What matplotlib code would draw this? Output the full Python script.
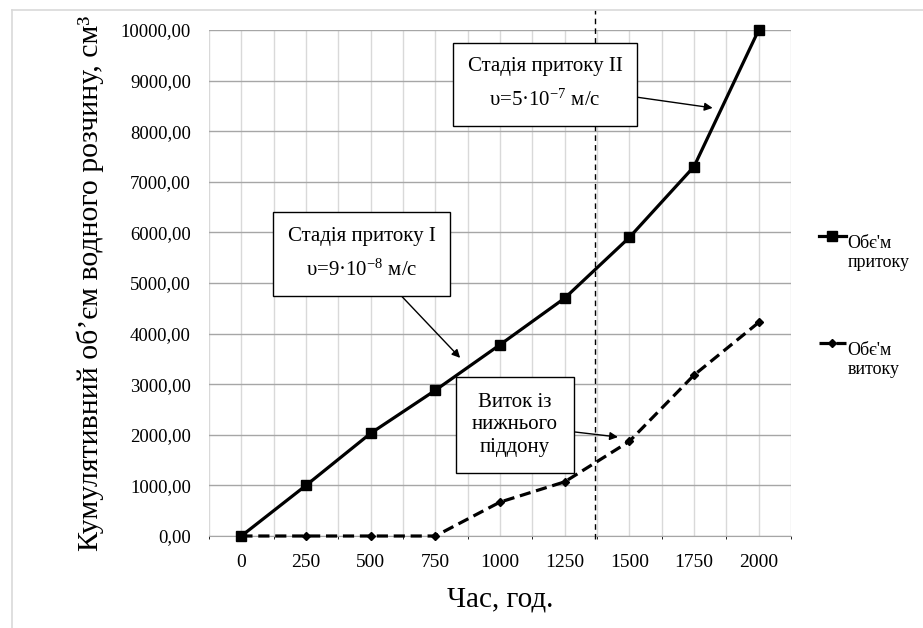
import matplotlib
matplotlib.use('Agg')
import matplotlib.pyplot as plt
from matplotlib.lines import Line2D
from matplotlib.ticker import FuncFormatter, MultipleLocator

plt.rcParams['font.family'] = ['Liberation Serif', 'DejaVu Serif']
plt.rcParams['mathtext.default'] = 'regular'

# дані
hours = [0, 250, 500, 750, 1000, 1250, 1500, 1750, 2000]
inflow = [0, 1000, 2030, 2880, 3780, 4700, 5900, 7300, 10000]
outflow = [0, 0, 0, 0, 670, 1070, 1870, 3180, 4220]
stage_boundary = 1367

fig = plt.figure(figsize=(9.23, 6.28), dpi=100)
ax = fig.add_axes([209 / 923, 1 - 536 / 628, (791 - 209) / 923, (536 - 30) / 628])

ax.plot(hours, inflow, '-s', color='black', lw=2.3, ms=7, label="Обє'м\nпритоку",
        zorder=4, clip_on=False)
ax.plot(hours, outflow, '--D', color='black', lw=2.3, ms=4.5, dashes=(3.5, 1.8),
        label="Обє'м\nвитоку", zorder=4, clip_on=False)

ax.set_xlim(-125, 2125)
ax.set_ylim(0, 10000)
ax.set_xticks(hours)
ax.xaxis.set_minor_locator(MultipleLocator(125))
ax.yaxis.set_major_locator(MultipleLocator(1000))
ax.yaxis.set_major_formatter(FuncFormatter(lambda v, p: f'{v:.2f}'.replace('.', ',')))
ax.grid(True, which='major', axis='y', color='#a6a6a6', lw=1)
ax.grid(True, which='both', axis='x', color='#d9d9d9', lw=1)
ax.set_axisbelow(True)
for s in ['top', 'right', 'left']:
    ax.spines[s].set_visible(False)
ax.spines['bottom'].set_color('#a6a6a6')
ax.tick_params(length=0, labelsize=14, pad=13)
ax.tick_params(axis='y', labelsize=13.5, pad=13)

ax.set_xlabel('Час, год.', fontsize=21, labelpad=11)
ax.set_ylabel('Кумулятивний об’єм водного розчину, см³', fontsize=21.5, labelpad=12)

# межа стадій
ax.plot([stage_boundary, stage_boundary], [-60, 10390], color='black', lw=1,
        ls=(0, (4, 3)), clip_on=False, zorder=3)

box = dict(boxstyle='square,pad=0.7', fc='white', ec='black', lw=1)
arr = dict(arrowstyle='-|>', color='black', lw=1, mutation_scale=12, shrinkA=0, shrinkB=0)
ax.annotate('Стадія притоку II\nυ=5·10$^{-7}$ м/с', xy=(1822, 8460), xytext=(1174, 8930),
            ha='center', va='center', fontsize=15, bbox=box, arrowprops=arr, zorder=5,
            linespacing=1.85)
ax.annotate('Стадія притоку I\nυ=9·10$^{-8}$ м/с', xy=(846, 3520), xytext=(465, 5573),
            ha='center', va='center', fontsize=15, bbox=box, arrowprops=arr, zorder=5,
            linespacing=1.85)
box3 = dict(boxstyle='square,pad=0.75', fc='white', ec='black', lw=1)
ax.annotate('Виток із\nнижнього\nпіддону', xy=(1456, 1956), xytext=(1058, 2194),
            ha='center', va='center', fontsize=15, bbox=box3, arrowprops=arr, zorder=5,
            linespacing=1.25)

leg = ax.legend(loc='center left', bbox_to_anchor=(1.035, 0.488), frameon=False,
                fontsize=13, labelspacing=3.9, handlelength=1.5, handletextpad=0.1,
                borderaxespad=0)
for t in leg.get_texts():
    t.set_va('center_baseline')

# рамка
fig.add_artist(Line2D([12 / 923, 1], [1 - 10 / 628] * 2, transform=fig.transFigure,
                      color='#d9d9d9', lw=1.2))
fig.add_artist(Line2D([12 / 923] * 2, [0, 1 - 10 / 628], transform=fig.transFigure,
                      color='#d9d9d9', lw=1.2))
fig.savefig('out.png', dpi=100)
